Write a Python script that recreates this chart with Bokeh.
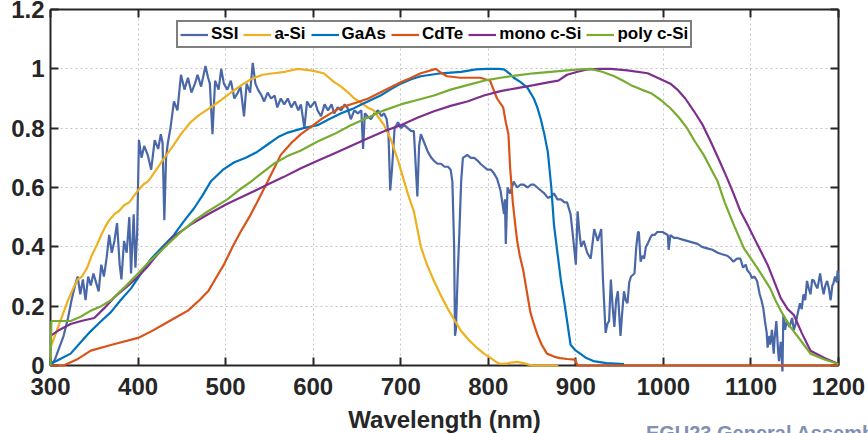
from bokeh.plotting import figure
from bokeh.models import LinearAxis, Range1d, FixedTicker, NumeralTickFormatter
from bokeh.core.properties import value
from bokeh.embed import file_html
from bokeh.resources import INLINE

# ---------------- data ----------------
x_ticks = [300, 400, 500, 600, 700, 800, 900, 1000, 1100, 1200]
y_ticks = [0, 0.2, 0.4, 0.6, 0.8, 1.0, 1.2]
x_label = "Wavelength (nm)"
footer_text = "EGU23 General Assembly"
series_names = ["SSI", "a-Si", "GaAs", "CdTe", "mono c-Si", "poly c-Si"]

ssi_wl = [300, 305, 310, 315, 320, 324, 328, 331, 334, 337, 340, 343, 346, 349, 352, 355, 358, 361, 364, 367,
          370, 373, 376, 379, 381, 384, 387, 390, 392, 395, 397, 399, 401, 404, 407, 411, 415, 419, 423, 426,
          428, 430, 432, 434, 437, 441, 445, 449, 453, 457, 461, 465, 468, 472, 477, 480, 482, 485, 488, 492,
          495, 498, 502, 506, 510, 514, 517, 521, 524, 528, 531, 534, 537, 541, 544, 548, 552, 556, 559, 563,
          567, 571, 575, 579, 583, 586, 590, 593, 597, 602, 605, 609, 613, 617, 621, 624, 628, 632, 636, 639,
          643, 647, 651, 655, 657, 659, 662, 666, 670, 674, 678, 681, 684, 686, 688, 690, 693, 697, 700, 704,
          708, 712, 715, 719, 721, 723, 727, 731, 735, 738, 742, 746, 750, 754, 757, 759, 761, 762, 763, 765,
          767, 769, 771, 776, 780, 784, 788, 791, 795, 799, 803, 806, 810, 814, 816, 818, 819, 820, 822, 825,
          829, 833, 837, 840, 845, 849, 852, 856, 860, 864, 868, 872, 875, 879, 883, 887, 890, 894, 898, 900,
          902, 904, 906, 909, 913, 917, 921, 925, 929, 931, 934, 936, 938, 940, 942, 944, 946, 948, 951, 953,
          955, 957, 959, 961, 963, 967, 969, 971, 972, 974, 976, 978, 980, 982, 985, 987, 990, 993, 996, 999,
          1002, 1005, 1006, 1008, 1012, 1016, 1021, 1027, 1033, 1039, 1044, 1050, 1056, 1062, 1067, 1073, 1077,
          1080, 1084, 1088, 1091, 1094, 1096, 1099, 1101, 1104, 1107, 1110, 1112, 1114, 1116, 1118, 1119, 1121,
          1122, 1124, 1126, 1127, 1129, 1131, 1132, 1134, 1136, 1137, 1139, 1141, 1144, 1147, 1149, 1151, 1153,
          1156, 1158, 1160, 1162, 1164, 1166, 1168, 1170, 1172, 1174, 1176, 1179, 1181, 1183, 1185, 1187, 1189,
          1191, 1193, 1194, 1196, 1198, 1199, 1200]
ssi_val = [0.00, 0.02, 0.06, 0.10, 0.16, 0.22, 0.27, 0.30, 0.24, 0.29, 0.22, 0.30, 0.27, 0.31, 0.28, 0.25, 0.34, 0.30, 0.36, 0.44,
           0.38, 0.42, 0.48, 0.34, 0.29, 0.42, 0.38, 0.50, 0.31, 0.51, 0.33, 0.45, 0.76, 0.70, 0.74, 0.71, 0.66, 0.76, 0.73, 0.78,
           0.75, 0.49, 0.70, 0.75, 0.80, 0.89, 0.86, 0.98, 0.93, 0.97, 0.92, 0.95, 0.98, 0.94, 1.01, 0.97, 0.95, 0.78, 0.96, 0.93,
           1.00, 0.95, 0.93, 0.96, 0.90, 0.92, 0.94, 0.84, 0.95, 0.92, 1.02, 0.95, 0.93, 0.91, 0.89, 0.92, 0.90, 0.91, 0.87, 0.90,
           0.88, 0.90, 0.87, 0.89, 0.86, 0.88, 0.80, 0.89, 0.87, 0.89, 0.86, 0.84, 0.88, 0.86, 0.88, 0.85, 0.87, 0.86, 0.88, 0.87,
           0.83, 0.86, 0.85, 0.86, 0.73, 0.85, 0.84, 0.83, 0.85, 0.86, 0.84, 0.85, 0.83, 0.78, 0.59, 0.66, 0.80, 0.82, 0.80, 0.81,
           0.80, 0.79, 0.79, 0.57, 0.74, 0.78, 0.75, 0.72, 0.70, 0.69, 0.68, 0.68, 0.67, 0.67, 0.66, 0.62, 0.40, 0.10, 0.12, 0.30,
           0.45, 0.62, 0.70, 0.71, 0.70, 0.70, 0.69, 0.68, 0.67, 0.66, 0.66, 0.65, 0.63, 0.59, 0.55, 0.51, 0.56, 0.41, 0.60, 0.58,
           0.62, 0.60, 0.61, 0.61, 0.60, 0.61, 0.61, 0.60, 0.59, 0.58, 0.565, 0.57, 0.58, 0.56, 0.56, 0.55, 0.55, 0.51, 0.40, 0.34,
           0.52, 0.45, 0.40, 0.42, 0.38, 0.36, 0.46, 0.42, 0.46, 0.29, 0.11, 0.14, 0.15, 0.29, 0.20, 0.13, 0.22, 0.25, 0.10, 0.18,
           0.25, 0.22, 0.21, 0.28, 0.30, 0.31, 0.40, 0.45, 0.45, 0.35, 0.37, 0.36, 0.40, 0.41, 0.43, 0.44, 0.44, 0.45, 0.45, 0.45,
           0.445, 0.44, 0.39, 0.44, 0.43, 0.43, 0.425, 0.42, 0.415, 0.41, 0.40, 0.395, 0.39, 0.38, 0.375, 0.37, 0.36,
           0.35, 0.36, 0.36, 0.33, 0.34, 0.32, 0.31, 0.295, 0.30, 0.285, 0.24, 0.22, 0.195, 0.15, 0.11, 0.06, 0.10,
           0.07, 0.12, 0.04, 0.09, 0.15, 0.05, 0.015, 0.08, -0.02, 0.17, 0.12, 0.15, 0.13, 0.16, 0.12, 0.14, 0.17,
           0.21, 0.19, 0.24, 0.22, 0.285, 0.26, 0.24, 0.29, 0.285, 0.27, 0.26, 0.31, 0.27, 0.24, 0.27, 0.285, 0.26,
           0.22, 0.27, 0.275, 0.30, 0.28, 0.32, 0.285]

asi_wl = [300, 305, 310, 315, 320, 326, 331, 336, 342, 347, 352, 358, 363, 367, 373, 378, 384, 390, 395, 400,
          406, 411, 415, 422, 430, 440, 449, 460, 470, 483, 495, 506, 518, 529, 542, 555, 568, 582, 597, 612,
          624, 632, 640, 647, 655, 662, 669, 675, 681, 685, 689, 693, 697, 702, 708, 712, 715, 719, 723, 730,
          738, 746, 754, 762, 769, 778, 787, 795, 803, 809, 814, 820, 826, 833, 840, 846, 852, 865, 880]
asi_val = [0.06, 0.10, 0.14, 0.18, 0.22, 0.26, 0.29, 0.30, 0.33, 0.37, 0.40, 0.44, 0.47, 0.49, 0.51, 0.52, 0.54, 0.55, 0.57, 0.59,
           0.61, 0.62, 0.635, 0.665, 0.70, 0.74, 0.78, 0.82, 0.845, 0.87, 0.895, 0.92, 0.945, 0.965, 0.98, 0.985, 0.99, 1.0, 0.995, 0.985,
           0.955, 0.94, 0.92, 0.90, 0.885, 0.87, 0.86, 0.835, 0.81, 0.785, 0.76, 0.725, 0.69, 0.64, 0.58, 0.545, 0.52, 0.46, 0.40, 0.34,
           0.285, 0.235, 0.19, 0.15, 0.116, 0.085, 0.06, 0.04, 0.025, 0.012, 0.005, 0.006, 0.01, 0.012, 0.008, 0.003, 0.0, 0.0, 0.0]

gaas_wl = [300, 310, 323, 335, 346, 358, 369, 380, 392, 400, 415, 428, 441, 452, 464, 474, 483, 497, 510, 523,
           536, 548, 560, 571, 589, 605, 618, 632, 645, 655, 666, 677, 688, 700, 712, 723, 746, 769, 786, 799,
           812, 818, 824, 829, 837, 845, 852, 856, 860, 864, 868, 872, 875, 879, 883, 887, 890, 894, 900, 905,
           912, 920, 935, 955]
gaas_val = [0.005, 0.02, 0.04, 0.08, 0.116, 0.15, 0.18, 0.22, 0.26, 0.295, 0.36, 0.40, 0.44, 0.485, 0.53, 0.575, 0.62, 0.66, 0.685, 0.70,
            0.72, 0.745, 0.77, 0.785, 0.80, 0.81, 0.83, 0.85, 0.865, 0.88, 0.895, 0.91, 0.93, 0.95, 0.965, 0.975, 0.985, 0.99, 0.998, 1.0,
            1.0, 0.998, 0.985, 0.97, 0.955, 0.935, 0.90, 0.87, 0.83, 0.78, 0.72, 0.60, 0.475, 0.38, 0.285, 0.21, 0.15, 0.07, 0.05, 0.04,
            0.025, 0.015, 0.008, 0.005]

cdte_wl = [300, 315, 330, 346, 370, 400, 415, 430, 445, 457, 470, 480, 490, 498, 508, 517, 527, 536, 548, 563,
           575, 586, 598, 609, 620, 632, 648, 663, 680, 700, 712, 723, 740, 747, 753, 768, 780, 791, 802, 806,
           810, 817, 820, 823, 825, 828, 831, 833, 836, 840, 844, 848, 852, 856, 861, 867, 875, 882, 890, 899,
           902, 1200]
cdte_val = [0.0, 0.0, 0.02, 0.05, 0.07, 0.093, 0.115, 0.14, 0.165, 0.185, 0.22, 0.25, 0.30, 0.34, 0.40, 0.45, 0.50, 0.55, 0.62, 0.71,
            0.75, 0.78, 0.805, 0.83, 0.85, 0.87, 0.885, 0.90, 0.925, 0.955, 0.97, 0.985, 1.0, 0.985, 0.975, 0.97, 0.97, 0.97, 0.96, 0.93,
            0.90, 0.87, 0.82, 0.78, 0.665, 0.55, 0.47, 0.42, 0.37, 0.32, 0.25, 0.18, 0.14, 0.105, 0.07, 0.04, 0.03, 0.025, 0.022, 0.02,
            0.0, 0.0]

mono_wl = [300, 310, 323, 335, 350, 362, 373, 387, 400, 410, 418, 430, 441, 460, 480, 502, 525, 548, 566, 586,
           605, 624, 643, 662, 681, 700, 719, 738, 757, 776, 795, 814, 833, 852, 870, 880, 890, 902, 913, 929,
           940, 959, 982, 997, 1008, 1016, 1025, 1035, 1045, 1054, 1064, 1073, 1080, 1088, 1096, 1107, 1119, 1127, 1134, 1142,
           1149, 1158, 1168, 1184, 1200]
mono_val = [0.10, 0.12, 0.14, 0.15, 0.16, 0.195, 0.23, 0.265, 0.30, 0.33, 0.36, 0.40, 0.435, 0.475, 0.51, 0.545, 0.577, 0.61, 0.635, 0.665,
            0.69, 0.715, 0.74, 0.765, 0.79, 0.81, 0.835, 0.857, 0.875, 0.89, 0.91, 0.925, 0.935, 0.945, 0.955, 0.96, 0.98, 0.99, 0.998, 1.0,
            1.0, 0.995, 0.985, 0.965, 0.95, 0.93, 0.90, 0.857, 0.81, 0.755, 0.69, 0.63, 0.58, 0.52, 0.475, 0.41, 0.34, 0.28, 0.227, 0.19,
            0.17, 0.11, 0.05, 0.025, 0.005]

poly_wl = [300, 301, 310, 323, 335, 346, 358, 369, 385, 400, 411, 422, 436, 449, 465, 480, 502, 517, 529, 542,
           555, 570, 586, 605, 624, 643, 662, 681, 700, 719, 738, 757, 776, 795, 814, 833, 852, 871, 890, 905,
           917, 930, 944, 954, 963, 975, 986, 997, 1008, 1018, 1027, 1036, 1046, 1054, 1062, 1070, 1081, 1092, 1107, 1122,
           1128, 1134, 1145, 1158, 1168, 1184, 1200]
poly_val = [0.0, 0.15, 0.15, 0.15, 0.165, 0.185, 0.20, 0.22, 0.265, 0.31, 0.345, 0.375, 0.415, 0.45, 0.49, 0.52, 0.56, 0.595, 0.62, 0.65,
            0.68, 0.705, 0.725, 0.755, 0.78, 0.81, 0.835, 0.86, 0.88, 0.895, 0.91, 0.93, 0.945, 0.96, 0.97, 0.978, 0.985, 0.99, 0.995, 0.998,
            1.0, 0.99, 0.975, 0.96, 0.945, 0.93, 0.918, 0.895, 0.867, 0.835, 0.80, 0.755, 0.71, 0.665, 0.62, 0.55, 0.47, 0.395, 0.33, 0.26,
            0.22, 0.185, 0.13, 0.08, 0.04, 0.02, 0.005]

# ---------------- styling ----------------
FONT = "Liberation Sans"
DARK = "#262626"
colors = ["#4A68A8", "#EDB120", "#0072BD", "#D95319", "#7E2F8E", "#77AC30"]

p = figure(width=868, height=433, output_backend="svg", toolbar_location=None,
           x_range=Range1d(300, 1200), y_range=Range1d(0, 1.2),
           min_border_left=50, min_border_right=30, min_border_top=9, min_border_bottom=68)
p.outline_line_color = None
p.background_fill_color = "white"
p.border_fill_color = "white"

series = [(ssi_wl, ssi_val), (asi_wl, asi_val), (gaas_wl, gaas_val),
          (cdte_wl, cdte_val), (mono_wl, mono_val), (poly_wl, poly_val)]
for (xs, ys), name, c in zip(series, series_names, colors):
    r = p.line(xs, ys, line_color=c, line_width=2.2, legend_label=name)
    r.level = "annotation"

xt = FixedTicker(ticks=x_ticks)
yt = FixedTicker(ticks=y_ticks)
fmt = NumeralTickFormatter(format="0.[0]")

p.xaxis.ticker = xt
p.yaxis.ticker = yt
p.yaxis.formatter = fmt

for ax in list(p.xaxis) + list(p.yaxis):
    ax.axis_line_color = DARK
    ax.axis_line_width = 2
    ax.major_tick_line_color = DARK
    ax.major_tick_line_width = 2
    ax.major_tick_in = 8
    ax.major_tick_out = 0
    ax.minor_tick_line_color = None
    ax.major_label_text_font = FONT
    ax.major_label_text_font_style = "bold"
    ax.major_label_text_font_size = "24px"
    ax.major_label_text_color = DARK

p.xaxis.major_label_standoff = 12
p.yaxis.major_label_standoff = 6

for loc, tk in (("above", xt), ("right", yt)):
    ax = LinearAxis(ticker=tk, axis_line_color=DARK, axis_line_width=2,
                    major_tick_line_color=DARK, major_tick_line_width=2,
                    major_tick_in=8, major_tick_out=0, minor_tick_line_color=None,
                    major_label_text_font_size="0px", major_label_standoff=0,
                    major_label_text_color=None)
    p.add_layout(ax, loc)

p.xgrid.ticker = xt
p.ygrid.ticker = yt
for g in (p.xgrid, p.ygrid):
    g.grid_line_color = "#c4c4c4"
    g.grid_line_dash = "2 3"
    g.grid_line_width = 1

lg = p.legend[0]
lg.orientation = "horizontal"
lg.location = (126, 317)
lg.label_text_font = FONT
lg.label_text_font_style = "bold"
lg.label_text_font_size = "17px"
lg.label_text_color = "black"
lg.glyph_width = 28
lg.glyph_height = 17
lg.label_height = 17
lg.label_standoff = 3
lg.spacing = 5
lg.padding = 2
lg.margin = 0
lg.border_line_color = "black"
lg.border_line_width = 2
lg.background_fill_color = "white"
lg.background_fill_alpha = 1

# x-axis title (below the tick labels) and the cut-off footer text
p.text(x=[750], y=[-0.135], text=[x_label], text_align="center", text_baseline="top",
       text_font=value(FONT), text_font_style="bold", text_font_size="24px",
       text_color=DARK, level="overlay")
p.text(x=[980], y=[-0.19], text=[footer_text], text_align="left", text_baseline="top",
       text_font=value(FONT), text_font_style="bold", text_font_size="20px",
       text_color="#8190B0", level="overlay")

open("out.html", "w").write(file_html(p, INLINE))
